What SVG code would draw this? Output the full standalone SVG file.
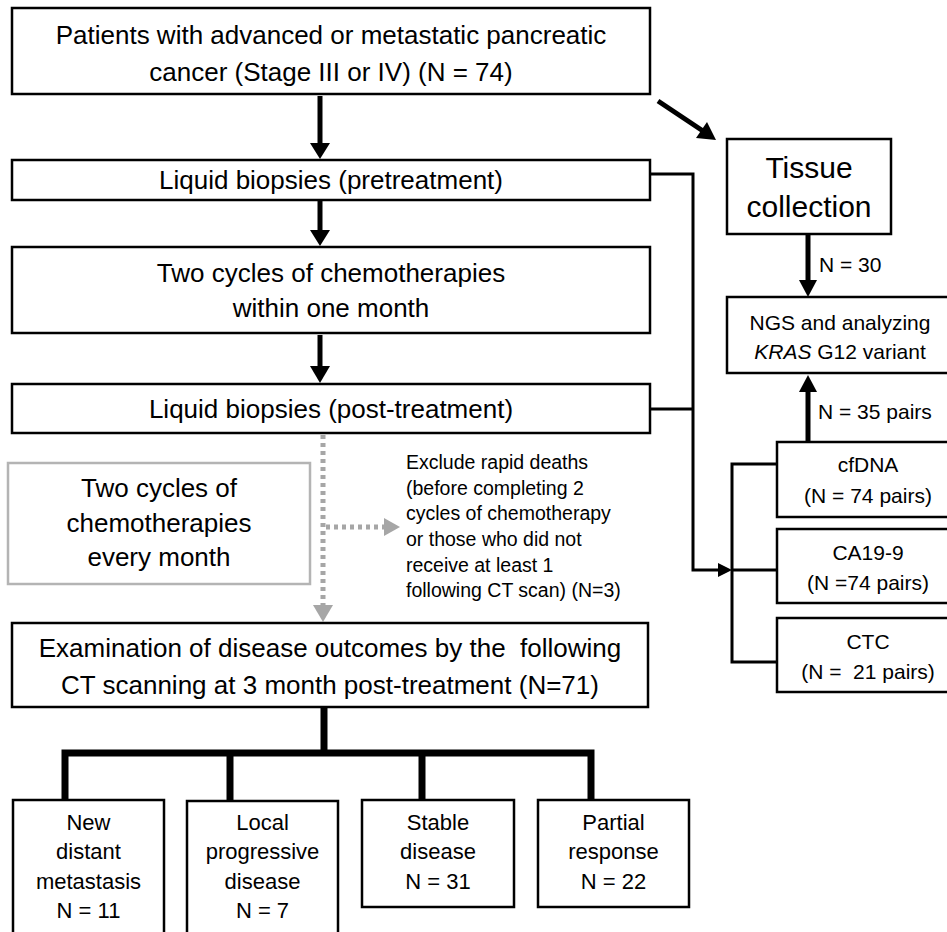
<svg xmlns="http://www.w3.org/2000/svg" width="947" height="932" viewBox="0 0 947 932">
<style>
.box{fill:#fff;stroke:#000;stroke-width:2.5}
.gbox{fill:#fff;stroke:#b4b4b4;stroke-width:2.5}
.t{font-family:"Liberation Sans",Arial,sans-serif;fill:#000;text-anchor:middle}
.l{font-size:26px}
.m{font-size:21px}
.s{font-size:22px}
.x{font-size:19.5px;text-anchor:start}
.thick{stroke:#000;stroke-width:5;fill:none}
.thin{stroke:#000;stroke-width:3;fill:none}
.tree{stroke:#000;stroke-width:7;fill:none}
.dot{stroke:#a6a6a6;stroke-width:5;stroke-dasharray:4 4;fill:none}
.head{fill:#000}
.ghead{fill:#a6a6a6}
</style>
<rect width="947" height="932" fill="#fff"/>
<g id="connectors">
<line class="thick" x1="320" y1="96" x2="320" y2="145"/>
<polygon class="head" points="310,143 330,143 320,159"/>
<line class="thick" x1="320" y1="201" x2="320" y2="232"/>
<polygon class="head" points="310,230 330,230 320,246"/>
<line class="thick" x1="320" y1="335" x2="320" y2="368"/>
<polygon class="head" points="310,366 330,366 320,383"/>
<line class="thick" x1="658" y1="101" x2="703" y2="131"/>
<polygon class="head" points="696,138 707,122 716,140"/>
<line class="thick" x1="808" y1="235" x2="808" y2="282"/>
<polygon class="head" points="799,280 817,280 808,297"/>
<line class="thick" x1="808" y1="441" x2="808" y2="390"/>
<polygon class="head" points="799,392 817,392 808,375"/>
<polyline class="thin" points="650,174 693,174 693,570 720,570"/>
<line class="thin" x1="650" y1="409" x2="693" y2="409"/>
<polygon class="head" points="718,563 718,577 732,570"/>
<polyline class="thin" points="777,464 732,464 732,662 777,662"/>
<line class="thin" x1="732" y1="570" x2="777" y2="570"/>
<line class="dot" x1="323" y1="435" x2="323" y2="606"/>
<polygon class="ghead" points="313,605 333,605 323,622"/>
<line class="dot" x1="326" y1="527" x2="386" y2="527"/>
<polygon class="ghead" points="384,518 384,536 400,527"/>
<polyline class="tree" points="324,707 324,753"/>
<polyline class="tree" points="65,800 65,753 591,753 591,800"/>
<line class="tree" x1="230" y1="753" x2="230" y2="801"/>
<line class="tree" x1="422" y1="753" x2="422" y2="800"/>
</g>
<g id="n-patients">
<rect class="box" x="12" y="8" width="638" height="86"/>
<text class="t l" x="331" y="44">Patients with advanced or metastatic pancreatic</text>
<text class="t l" x="331" y="81">cancer (Stage III or IV) (N = 74)</text>
</g>
<g id="n-pre">
<rect class="box" x="12" y="160" width="638" height="40"/>
<text class="t l" x="331" y="189">Liquid biopsies (pretreatment)</text>
</g>
<g id="n-chemo1">
<rect class="box" x="12" y="247" width="638" height="86"/>
<text class="t l" x="331" y="282">Two cycles of chemotherapies</text>
<text class="t l" x="331" y="317">within one month</text>
</g>
<g id="n-post">
<rect class="box" x="12" y="384" width="638" height="49"/>
<text class="t l" x="331" y="418">Liquid biopsies (post-treatment)</text>
</g>
<g id="n-chemo2">
<rect class="gbox" x="8" y="463" width="302" height="121"/>
<text class="t l" x="159" y="497">Two cycles of</text>
<text class="t l" x="159" y="532">chemotherapies</text>
<text class="t l" x="159" y="566">every month</text>
</g>
<g id="n-exclude">
<text class="t x" x="406" y="469">Exclude rapid deaths</text>
<text class="t x" x="406" y="495">(before completing 2</text>
<text class="t x" x="406" y="520">cycles of chemotherapy</text>
<text class="t x" x="406" y="546">or those who did not</text>
<text class="t x" x="406" y="572">receive at least 1</text>
<text class="t x" x="406" y="597">following CT scan) (N=3)</text>
</g>
<g id="n-exam">
<rect class="box" x="12" y="623" width="636" height="84"/>
<text class="t l" x="330" y="657">Examination of disease outcomes by the&#160; following</text>
<text class="t l" x="330" y="694">CT scanning at 3 month post-treatment (N=71)</text>
</g>
<g id="n-new">
<rect class="box" x="13" y="800" width="151" height="150"/>
<text class="t s" x="88.5" y="830">New</text>
<text class="t s" x="88.5" y="859">distant</text>
<text class="t s" x="88.5" y="889">metastasis</text>
<text class="t s" x="88.5" y="918">N = 11</text>
</g>
<g id="n-local">
<rect class="box" x="187" y="801" width="151" height="150"/>
<text class="t s" x="262.5" y="830">Local</text>
<text class="t s" x="262.5" y="859">progressive</text>
<text class="t s" x="262.5" y="889">disease</text>
<text class="t s" x="262.5" y="918">N = 7</text>
</g>
<g id="n-stable">
<rect class="box" x="362" y="800" width="152" height="107"/>
<text class="t s" x="438" y="830">Stable</text>
<text class="t s" x="438" y="859">disease</text>
<text class="t s" x="438" y="889">N = 31</text>
</g>
<g id="n-partial">
<rect class="box" x="538" y="800" width="151" height="107"/>
<text class="t s" x="613.5" y="830">Partial</text>
<text class="t s" x="613.5" y="859">response</text>
<text class="t s" x="613.5" y="889">N = 22</text>
</g>
<g id="n-tissue">
<rect class="box" x="727" y="139" width="164" height="95"/>
<text class="t" style="font-size:30px" x="809" y="178">Tissue</text>
<text class="t" style="font-size:30px" x="809" y="217">collection</text>
</g>
<text class="t m" x="819" y="272" style="text-anchor:start">N = 30</text>
<g id="n-ngs">
<rect class="box" x="727" y="297" width="240" height="76"/>
<text class="t m" x="840" y="330">NGS and analyzing</text>
<text class="t m" x="840" y="359"><tspan font-style="italic">KRAS</tspan> G12 variant</text>
</g>
<text class="t m" x="818" y="419" style="text-anchor:start">N = 35 pairs</text>
<g id="n-cfdna">
<rect class="box" x="777" y="442" width="190" height="75"/>
<text class="t m" x="868" y="472">cfDNA</text>
<text class="t m" x="868" y="503">(N = 74 pairs)</text>
</g>
<g id="n-ca199">
<rect class="box" x="777" y="529" width="190" height="74"/>
<text class="t m" x="868" y="560">CA19-9</text>
<text class="t m" x="868" y="590">(N =74 pairs)</text>
</g>
<g id="n-ctc">
<rect class="box" x="777" y="618" width="190" height="74"/>
<text class="t m" x="868" y="649">CTC</text>
<text class="t m" x="868" y="679">(N =&#160; 21 pairs)</text>
</g>
</svg>
